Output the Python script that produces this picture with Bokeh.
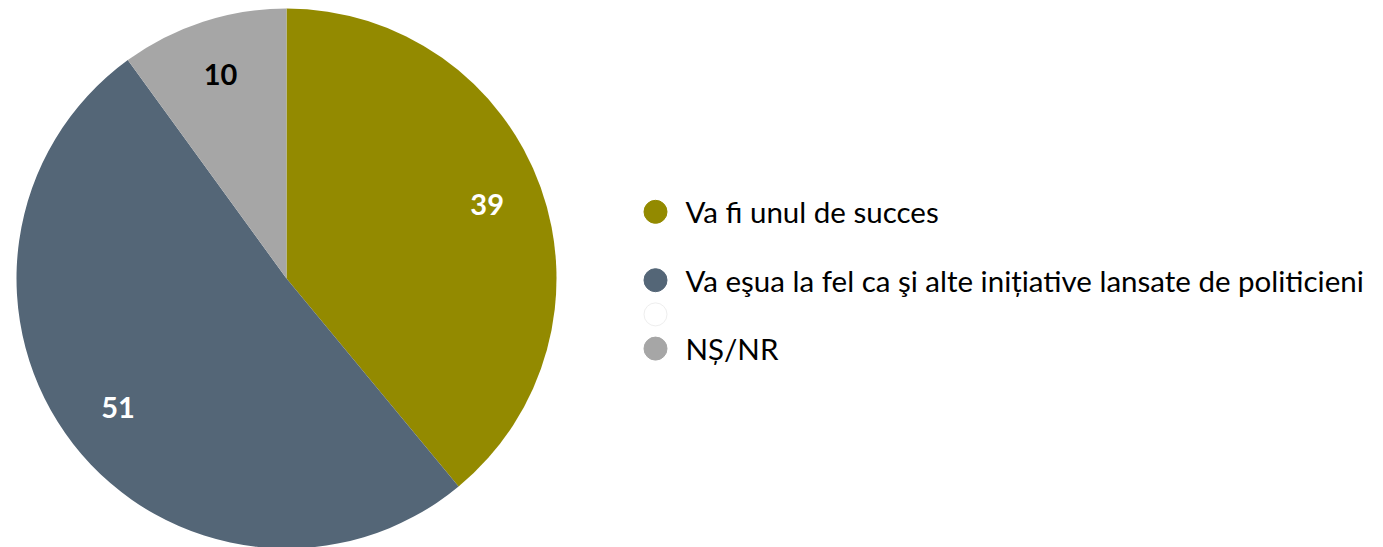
import math
from bokeh.plotting import figure
from bokeh.models import ColumnDataSource, Range1d
from bokeh.core.properties import value
from bokeh.embed import file_html
from bokeh.resources import INLINE

categories = ["Va fi unul de succes",
              "Va eşua la fel ca şi alte inițiative lansate de politicieni",
              "NȘ/NR"]
values = [39, 51, 10]
colors = ["#938A00", "#546677", "#A6A6A6"]
label_colors = ["white", "white", "black"]

W, H = 1383, 547
p = figure(width=W, height=H, output_backend="svg", toolbar_location=None,
           x_range=Range1d(0, W), y_range=Range1d(0, H), min_border=0)
p.axis.visible = False
p.grid.visible = False
p.outline_line_color = None
p.background_fill_color = "white"
p.border_fill_color = "white"

cx, cy, R = 286, H - 278, 270
total = sum(values)
starts, ends, lx, ly = [], [], [], []
a = math.pi / 2
for v in values:
    span = 2 * math.pi * v / total
    starts.append(a - span)
    ends.append(a)
    mid = a - span / 2
    lx.append(cx + 0.79 * R * math.cos(mid))
    ly.append(cy + 0.79 * R * math.sin(mid) + 1.5)
    a -= span

src = ColumnDataSource(dict(start=starts, end=ends, color=colors,
                            lx=lx, ly=ly, txt=[str(v) for v in values],
                            tc=label_colors))
p.wedge(x=cx, y=cy, radius=R, start_angle="start", end_angle="end",
        fill_color="color", line_color=None, source=src)
p.text(x="lx", y="ly", text="txt", text_color="tc", source=src,
       text_align="center", text_baseline="middle",
       text_font=value("Lato"), text_font_style="bold", text_font_size="29px")

# legend (with the blank spacer rows of the original)
leg_labels = [categories[0], "", categories[1], "", categories[2]]
leg_colors = [colors[0], None, colors[1], "white", colors[2]]
lx0, ly0, step = 655, H - 211.3, 34.2
for i, (lab, col) in enumerate(zip(leg_labels, leg_colors)):
    y = ly0 - i * step
    if col is not None:
        p.scatter(x=[lx0], y=[y], size=23, marker="circle", fill_color=col,
                  line_color="#EEEEEE" if col == "white" else col, line_width=1)
    if lab:
        p.text(x=[lx0 + 30], y=[y], text=[lab], text_align="left",
               text_baseline="middle", text_font=value("Lato"),
               text_font_size="29.5px", text_color="#000000")

open("out.html", "w").write(file_html(p, INLINE))
